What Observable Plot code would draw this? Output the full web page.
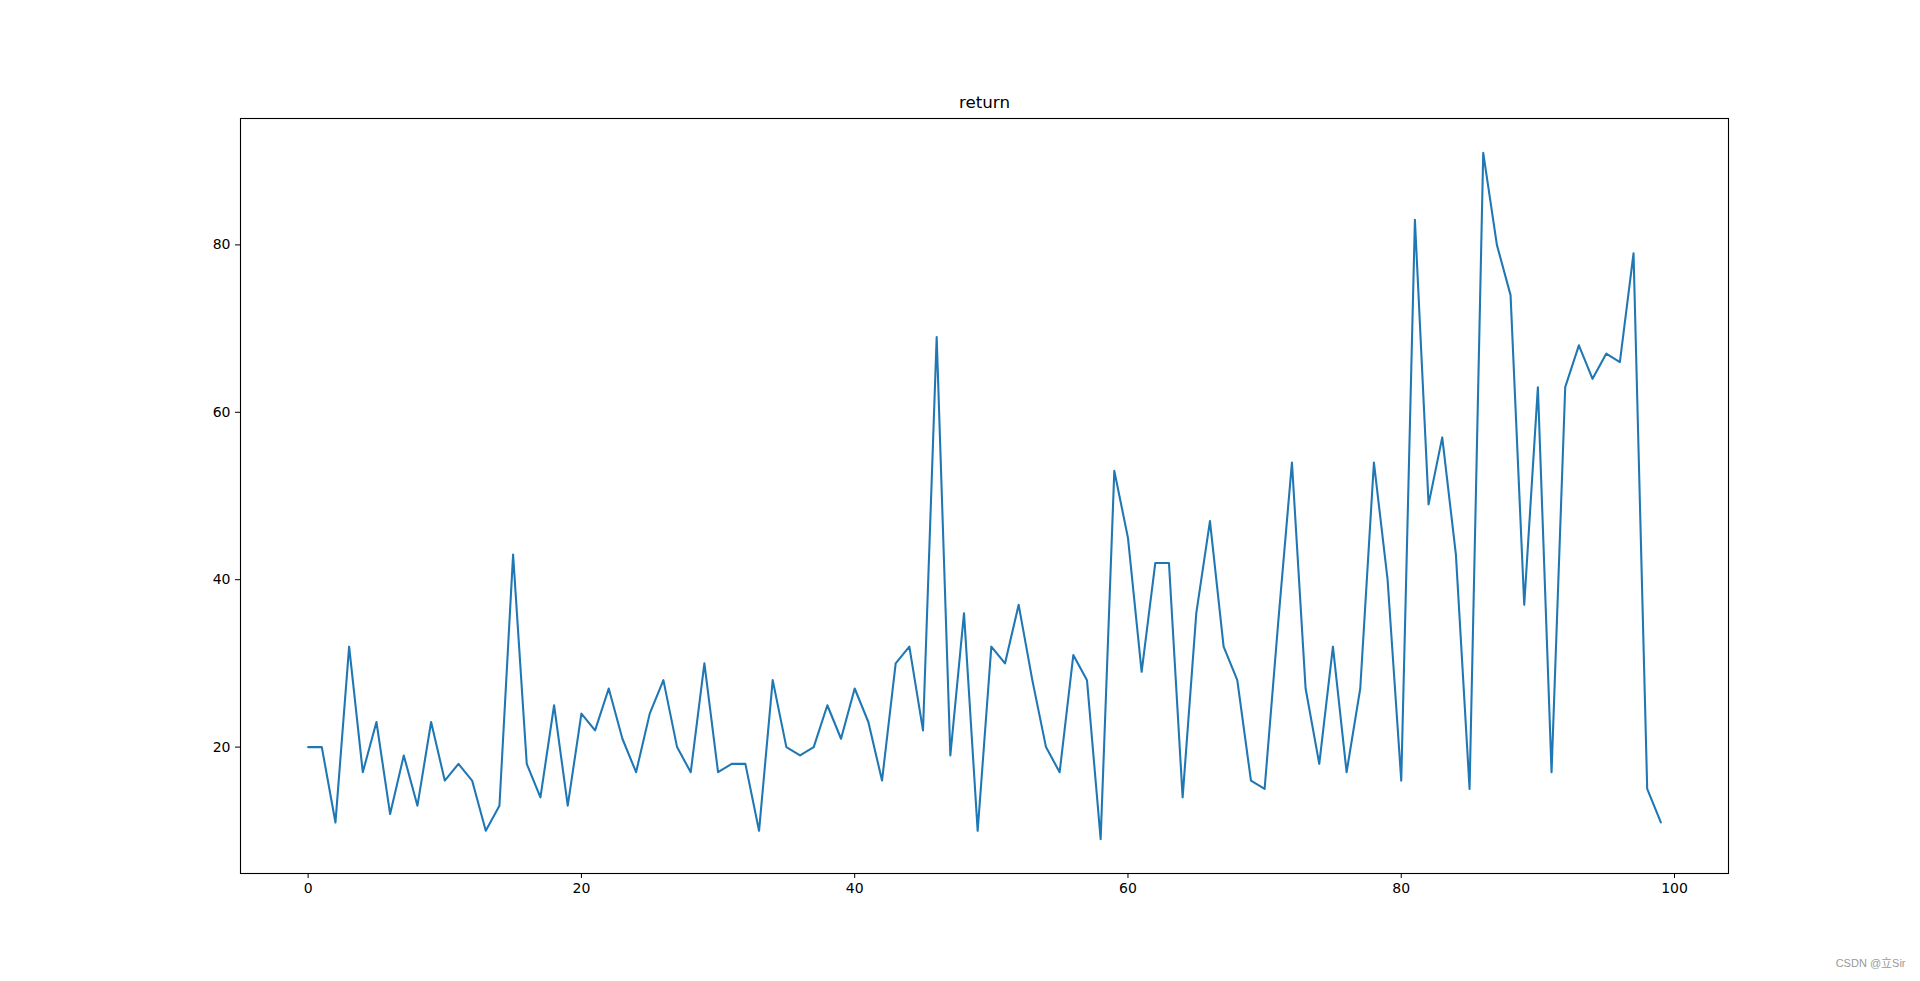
<!DOCTYPE html>
<html>
<head>
<meta charset="utf-8">
<script src="https://cdn.jsdelivr.net/npm/d3@7"></script>
<script src="https://cdn.jsdelivr.net/npm/@observablehq/plot@0.6"></script>
<style>
  html, body { margin: 0; padding: 0; background: white; overflow: hidden; }
  #chart { width: 1920px; height: 981px; }
  #chart svg { display: block; }
</style>
</head>
<body>
<div id="chart"></div>
<script>
// Data (episode index -> return)
const returns = [
  20, 20, 11, 32, 17, 23, 12, 19, 13, 23,
  16, 18, 16, 10, 13, 43, 18, 14, 25, 13,
  24, 22, 27, 21, 17, 24, 28, 20, 17, 30,
  17, 18, 18, 10, 28, 20, 19, 20, 25, 21,
  27, 23, 16, 30, 32, 22, 69, 19, 36, 10,
  32, 30, 37, 28, 20, 17, 31, 28, 9, 53,
  45, 29, 42, 42, 14, 36, 47, 32, 28, 16,
  15, 35, 54, 27, 18, 32, 17, 27, 54, 40,
  16, 83, 49, 57, 43, 15, 91, 80, 74, 37,
  63, 17, 63, 68, 64, 67, 66, 79, 15, 11
];
const xTicks = [0, 20, 40, 60, 80, 100];
const yTicks = [20, 40, 60, 80];
const titleText = ["return"];
const watermark = ["CSDN @立Sir"];

const data = returns.map((v, i) => ({i, v}));

const n = returns.length - 1;
const yMin = d3.min(returns), yMax = d3.max(returns);
const xPad = n * 0.05, yPad = (yMax - yMin) * 0.05;

const chart = Plot.plot({
  width: 1920,
  height: 981,
  marginLeft: 240,
  marginRight: 192,
  marginTop: 118,
  marginBottom: 108,
  style: {fontFamily: "'DejaVu Sans', sans-serif", fontSize: "14px", background: "white", color: "black"},
  x: {domain: [0 - xPad, n + xPad], label: null},
  y: {domain: [yMin - yPad, yMax + yPad], label: null},
  marks: [
    Plot.lineY(data, {x: "i", y: "v", stroke: "#1f77b4", strokeWidth: 2.08}),
    Plot.frame({stroke: "black", strokeWidth: 1.1}),
    Plot.axisX({ticks: xTicks, tickSize: 5, tickPadding: 5, fontSize: 14, label: null, tickFormat: d => String(d)}),
    Plot.axisY({ticks: yTicks, tickSize: 5, tickPadding: 5, fontSize: 14, label: null, tickFormat: d => String(d)}),
    Plot.text(titleText, {frameAnchor: "top", dy: -11, lineAnchor: "bottom", fontSize: 16.7, fill: "black"}),
    Plot.text(watermark, {frameAnchor: "bottom-right", dx: 177, dy: 93, textAnchor: "end", fontSize: 11, fill: "#999", fontFamily: "'Liberation Sans', 'Noto Sans CJK SC', sans-serif"})
  ]
});
document.getElementById("chart").appendChild(chart);
</script>
</body>
</html>
